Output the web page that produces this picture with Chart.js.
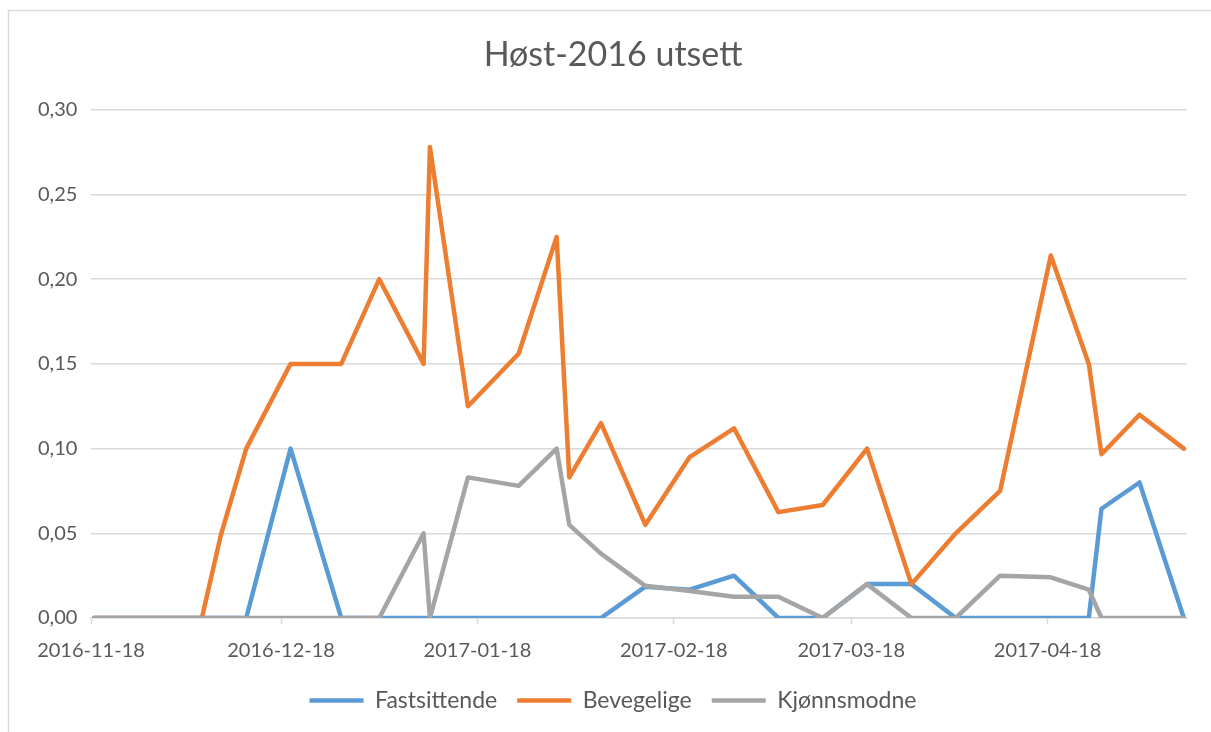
<!DOCTYPE html>
<html>
<head>
<meta charset="utf-8">
<script src="https://cdn.jsdelivr.net/npm/chart.js@4"></script>
<style>
  html, body { margin: 0; padding: 0; background: #fff; }
  #wrap { width: 1211px; height: 732px; position: relative; }
</style>
</head>
<body>
<div id="wrap"><canvas id="lusChart"></canvas></div>
<script>
// sample dates
const dates = [
    '2016-11-18', '2016-12-05', '2016-12-08', '2016-12-12', '2016-12-19', '2016-12-27',
    '2017-01-02', '2017-01-09', '2017-01-10', '2017-01-16', '2017-01-24', '2017-01-30',
    '2017-02-01', '2017-02-06', '2017-02-13', '2017-02-20', '2017-02-27', '2017-03-06',
    '2017-03-13', '2017-03-20', '2017-03-27', '2017-04-03', '2017-04-10', '2017-04-18',
    '2017-04-24', '2017-04-26', '2017-05-02', '2017-05-09'
];

const fastsittende = [
    0, 0, 0, 0, 0.10, 0,
    0, 0, 0, 0, 0, 0,
    0, 0, 0.0185, 0.0167, 0.025, 0,
    0, 0.02, 0.02, 0, 0, 0,
    0, 0.0645, 0.08, 0
];

const bevegelige = [
    0, 0, 0.049, 0.10, 0.15, 0.15,
    0.20, 0.15, 0.278, 0.125, 0.156, 0.225,
    0.083, 0.115, 0.055, 0.095, 0.112, 0.0625,
    0.0667, 0.10, 0.02, 0.05, 0.075, 0.214,
    0.15, 0.0967, 0.12, 0.10
];

const kjonnsmodne = [
    0, 0, 0, 0, 0, 0,
    0, 0.05, 0, 0.083, 0.078, 0.10,
    0.055, 0.038, 0.019, 0.016, 0.0125, 0.0125,
    0, 0.02, 0, 0, 0.025, 0.024,
    0.0167, 0, 0, 0
];

const tickLabels = ['2016-11-18', '2016-12-18', '2017-01-18', '2017-02-18', '2017-03-18', '2017-04-18'];

const seriesNames  = ['Fastsittende', 'Bevegelige', 'Kjønnsmodne'];
const seriesColors = ['#5B9BD5', '#ED7D31', '#A5A5A5'];

const startDate = tickLabels[0];
const dayOf = (d) => (Date.parse(d) - Date.parse(startDate)) / 86400000;

const toPoints = (vals) => vals.map((v, i) => ({ x: dayOf(dates[i]), y: v }));

const textColor = '#595959';
const gridColor = '#D9D9D9';
const fontFamily = 'Lato, "Open Sans", sans-serif';

const lastDay = dayOf(dates[dates.length - 1]);

const makeSet = (idx, vals, order) => ({
    label: seriesNames[idx],
    data: toPoints(vals),
    borderColor: seriesColors[idx],
    backgroundColor: seriesColors[idx],
    borderWidth: 4.5,
    borderJoinStyle: 'round',
    borderCapStyle: 'round',
    pointRadius: 0,
    pointHoverRadius: 0,
    tension: 0,
    fill: false,
    order: order
});

// white bg + the chart frame (only left/top visible in the crop)
const frame = {
    id: 'frame',
    beforeDraw(chart) {
        const c = chart.ctx;
        c.save();
        c.fillStyle = '#fff';
        c.fillRect(0, 0, chart.width, chart.height);
        c.strokeStyle = gridColor;
        c.lineWidth = 1.5;
        c.strokeRect(8.5, 10.5, chart.width + 20, chart.height + 20);
        c.restore();
    }
};

new Chart(document.getElementById('lusChart'), {
    type: 'line',
    data: {
        datasets: [
            makeSet(0, fastsittende, 3),
            makeSet(1, bevegelige, 2),
            makeSet(2, kjonnsmodne, 1)
        ]
    },
    plugins: [frame],
    options: {
        responsive: true,
        maintainAspectRatio: false,
        animation: false,
        layout: {
            // left/right chosen so title + legend centre on the frame
            padding: { left: 39, right: 24, top: 0, bottom: 10 }
        },
        scales: {
            x: {
                type: 'linear',
                min: -0.5,
                max: lastDay + 0.5,
                afterBuildTicks: (scale) => {
                    scale.ticks = tickLabels.map(t => ({ value: dayOf(t) - 0.5 }));
                },
                afterFit: (scale) => { scale.height = 51; },
                grid: {
                    drawOnChartArea: false,
                    drawTicks: true,
                    tickLength: 6,
                    tickColor: gridColor,
                    tickWidth: 1.5
                },
                border: { color: gridColor, width: 1.5 },
                ticks: {
                    autoSkip: false,
                    maxRotation: 0,
                    padding: 15,
                    color: textColor,
                    font: { family: fontFamily, size: 20 },
                    callback: function (value, index) {
                        return tickLabels[index];
                    }
                }
            },
            y: {
                min: 0,
                max: 0.30,
                afterFit: (scale) => { scale.width = 52; },
                grid: {
                    color: gridColor,
                    lineWidth: 1.5,
                    drawTicks: false
                },
                border: { display: false },
                ticks: {
                    stepSize: 0.05,
                    // mirrored so the labels are not clipped to the narrow axis box
                    mirror: true,
                    padding: -53,
                    color: textColor,
                    font: { family: fontFamily, size: 20 },
                    callback: function (value) {
                        return value.toFixed(2).replace('.', ',');
                    }
                }
            }
        },
        plugins: {
            title: {
                display: true,
                text: 'Høst-2016 utsett',
                color: textColor,
                font: { family: fontFamily, size: 34, weight: 'normal' },
                padding: { top: 35, bottom: 34 }
            },
            legend: {
                position: 'bottom',
                labels: {
                    usePointStyle: true,
                    pointStyle: 'line',
                    pointStyleWidth: 54,
                    padding: 20,
                    color: textColor,
                    font: { family: fontFamily, size: 23 },
                    sort: (a, b) => a.datasetIndex - b.datasetIndex
                }
            },
            tooltip: { enabled: false }
        }
    }
});
</script>
</body>
</html>
